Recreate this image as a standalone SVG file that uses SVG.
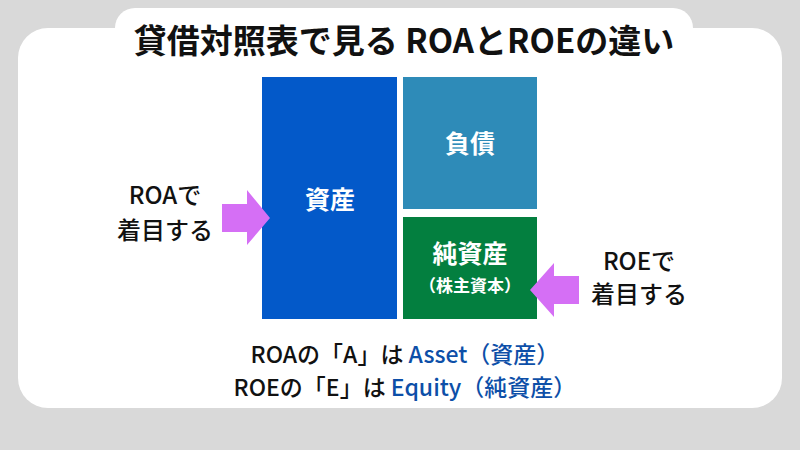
<svg xmlns="http://www.w3.org/2000/svg" width="800" height="450" viewBox="0 0 800 450">
<style>
text{font-family:"Noto Sans CJK JP","Noto Sans",sans-serif;font-weight:bold;text-anchor:middle}
.w{fill:#fff}.k{fill:#111}.b{fill:#0d4fa8}
.m{font-weight:500}
.arr{fill:#d56ff5}
</style>
<rect width="800" height="450" fill="#d9d9d9"/>
<rect x="18" y="28" width="764" height="380" rx="30" fill="#fff"/>
<rect x="115" y="8" width="578" height="60" rx="20" fill="#fff"/>
<text x="404" y="53" font-size="33" class="k">貸借対照表で見る ROAとROEの違い</text>
<g id="assets"><rect x="262" y="77" width="135" height="242" fill="#0359c9"/><text x="330" y="209" font-size="25" class="w">資産</text></g>
<g id="liabilities"><rect x="403" y="77" width="134" height="132" fill="#2e8bb8"/><text x="470" y="153" font-size="25" class="w">負債</text></g>
<g id="equity"><rect x="403" y="217" width="134" height="102" fill="#037f3f"/><text x="470" y="263" font-size="25" class="w">純資産</text><text x="470" y="292" font-size="17" class="w">（株主資本）</text></g>
<g id="connectors">
<polygon class="arr" points="222,204 247,204 247,190 270,218 247,245 247,232 222,232"/>
<polygon class="arr" points="579,276 554,276 554,263 530,290 554,317 554,304 579,304"/>
</g>
<g id="roa-label"><text x="165" y="204" font-size="24" class="k m">ROAで</text><text x="165" y="239" font-size="24" class="k m">着目する</text></g>
<g id="roe-label"><text x="639" y="270" font-size="24" class="k m">ROEで</text><text x="639" y="303" font-size="24" class="k m">着目する</text></g>
<text x="405" y="363" font-size="23" class="k m">ROAの「A」は <tspan class="b">Asset（資産）</tspan></text>
<text x="405" y="396" font-size="23" class="k m">ROEの「E」は <tspan class="b">Equity（純資産）</tspan></text>
</svg>
